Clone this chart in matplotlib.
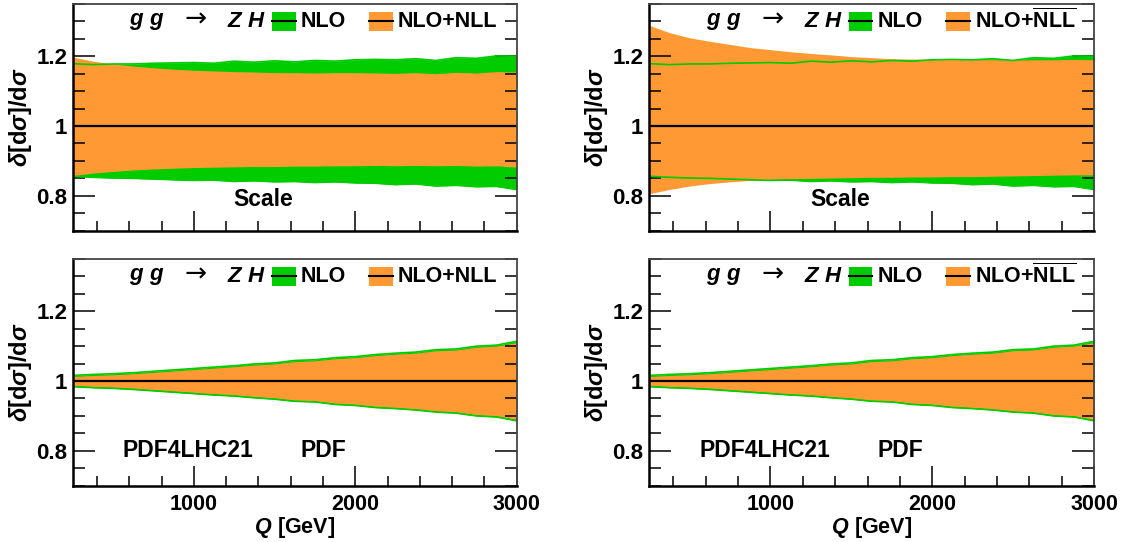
import matplotlib
matplotlib.use('Agg')
import matplotlib.pyplot as plt
from matplotlib.patches import Rectangle
from matplotlib.lines import Line2D
from matplotlib.ticker import FixedLocator, MultipleLocator

plt.rcParams['font.family'] = ['Liberation Sans', 'DejaVu Sans']
plt.rcParams['font.weight'] = 'bold'
plt.rcParams['mathtext.fontset'] = 'custom'
plt.rcParams['mathtext.rm'] = 'Liberation Sans:bold'
plt.rcParams['mathtext.bf'] = 'Liberation Sans:bold'
plt.rcParams['mathtext.it'] = 'Liberation Sans:bold:italic'

GREEN = '#00cc00'
ORANGE = '#ff9933'

# Q grid [GeV]
q = [250, 375, 500, 625, 750, 875, 1000, 1125, 1250, 1375, 1500, 1625,
     1750, 1875, 2000, 2125, 2250, 2375, 2500, 2625, 2750, 2875, 3000]

# scale uncertainty, NLO (same in both top panels)
nlo_scale_hi = [1.179, 1.176, 1.178, 1.178, 1.180, 1.181, 1.182, 1.180, 1.186, 1.183, 1.187, 1.184,
                1.188, 1.186, 1.190, 1.191, 1.190, 1.193, 1.188, 1.196, 1.194, 1.201, 1.200]
nlo_scale_lo = [0.856, 0.853, 0.851, 0.850, 0.848, 0.846, 0.844, 0.845, 0.841, 0.843, 0.840, 0.841,
                0.838, 0.840, 0.837, 0.836, 0.832, 0.834, 0.828, 0.830, 0.826, 0.827, 0.818]

# scale uncertainty, NLO+NLL
nll_scale_hi = [1.198, 1.186, 1.178, 1.172, 1.167, 1.163, 1.160, 1.158, 1.156, 1.155, 1.153, 1.153,
                1.152, 1.153, 1.153, 1.152, 1.151, 1.153, 1.150, 1.154, 1.152, 1.156, 1.155]
nll_scale_lo = [0.858, 0.865, 0.870, 0.874, 0.877, 0.879, 0.881, 0.882, 0.883, 0.884, 0.884, 0.885,
                0.885, 0.886, 0.886, 0.887, 0.886, 0.887, 0.886, 0.887, 0.885, 0.886, 0.882]

# scale uncertainty, NLO+NLLbar
nllbar_scale_hi = [1.289, 1.268, 1.253, 1.243, 1.234, 1.225, 1.219, 1.213, 1.208, 1.204, 1.199, 1.196,
                   1.193, 1.192, 1.191, 1.191, 1.190, 1.190, 1.189, 1.190, 1.190, 1.191, 1.190]
nllbar_scale_lo = [0.806, 0.818, 0.828, 0.835, 0.840, 0.844, 0.847, 0.849, 0.850, 0.851, 0.852, 0.853,
                   0.853, 0.854, 0.854, 0.855, 0.855, 0.856, 0.857, 0.858, 0.859, 0.860, 0.860]

# PDF uncertainty (PDF4LHC21), NLO
nlo_pdf_hi = [1.016, 1.019, 1.021, 1.024, 1.028, 1.032, 1.036, 1.040, 1.044, 1.049, 1.052, 1.059,
              1.061, 1.067, 1.070, 1.076, 1.080, 1.083, 1.090, 1.092, 1.100, 1.103, 1.114]
nlo_pdf_lo = [0.984, 0.981, 0.979, 0.976, 0.972, 0.968, 0.964, 0.960, 0.957, 0.952, 0.948, 0.942,
              0.940, 0.933, 0.930, 0.924, 0.921, 0.917, 0.911, 0.908, 0.900, 0.897, 0.886]

# PDF uncertainty, resummed (same for NLL and NLLbar)
nll_pdf_hi = [1.013, 1.016, 1.018, 1.021, 1.025, 1.029, 1.033, 1.037, 1.041, 1.046, 1.049, 1.056,
              1.058, 1.064, 1.067, 1.073, 1.077, 1.080, 1.087, 1.089, 1.097, 1.100, 1.110]
nll_pdf_lo = [0.987, 0.984, 0.982, 0.979, 0.975, 0.971, 0.967, 0.963, 0.960, 0.955, 0.951, 0.945,
              0.943, 0.936, 0.933, 0.927, 0.924, 0.920, 0.914, 0.911, 0.903, 0.900, 0.890]

FS = 15.5


def legend(ax, res_label):
    ax.text(0.127, 0.924, r'$g\ g$', transform=ax.transAxes, va='center', ha='left', fontsize=16)
    ax.text(0.277, 0.93, '\u2192', transform=ax.transAxes, va='center', ha='center',
            fontsize=19, fontweight='normal', family='DejaVu Sans')
    ax.text(0.348, 0.924, r'$Z\ H$', transform=ax.transAxes, va='center', ha='left', fontsize=16)
    for x0, col, lab in [(0.449, GREEN, 'NLO'), (0.668, ORANGE, res_label)]:
        ax.add_patch(Rectangle((x0, 0.882), 0.053, 0.084, transform=ax.transAxes,
                               color=col, lw=0, clip_on=False, zorder=5))
        ax.add_line(Line2D([x0, x0 + 0.053], [0.924, 0.924], transform=ax.transAxes,
                           color='k', lw=1.5, zorder=6))
        ax.text(x0 + 0.064, 0.924, lab, transform=ax.transAxes, va='center', ha='left',
                fontsize=FS)


def panel(ax, nlo_lo, nlo_hi, res_lo, res_hi, res_label, bottom):
    ax.fill_between(q, nlo_lo, nlo_hi, color=GREEN, lw=0)
    ax.fill_between(q, res_lo, res_hi, color=ORANGE, lw=0)
    ax.plot(q, nlo_hi, color=GREEN, lw=1.2)
    ax.plot(q, nlo_lo, color=GREEN, lw=1.2)
    ax.axhline(1.0, color='k', lw=1.6)

    ax.set_xlim(250, 3000)
    ax.set_ylim(0.7, 1.35)
    ax.xaxis.set_major_locator(FixedLocator([1000, 2000, 3000]))
    ax.xaxis.set_minor_locator(MultipleLocator(200))
    ax.yaxis.set_major_locator(FixedLocator([0.8, 1.0, 1.2]))
    ax.yaxis.set_minor_locator(MultipleLocator(0.05))
    ax.set_yticklabels(['0.8', '1', '1.2'])
    ax.tick_params(axis='y', which='both', direction='in', left=True, right=True, width=1.1)
    ax.tick_params(axis='y', which='major', length=16, labelsize=16, pad=4)
    ax.tick_params(axis='y', which='minor', length=8.5)
    ax.tick_params(axis='x', which='both', direction='in', bottom=True, top=False, width=1.1)
    ax.tick_params(axis='x', which='major', length=14.5, labelsize=FS, pad=6)
    ax.tick_params(axis='x', which='minor', length=7.5)
    for s in ['left', 'bottom']:
        ax.spines[s].set_linewidth(1.8)
    for s in ['top', 'right']:
        ax.spines[s].set_linewidth(1.3)
        ax.spines[s].set_color('#444444')

    ax.set_ylabel(r'$\delta\mathbf{[d}\sigma\mathbf{]/d}\sigma$', fontsize=17, va='center')
    ax.yaxis.set_label_coords(-0.118, 0.5)
    legend(ax, res_label)

    if bottom:
        ax.set_xlabel(r'$Q\ \mathbf{[GeV]}$', fontsize=FS, va='center')
        ax.xaxis.set_label_coords(0.5, -0.185)
        ax.text(965, 0.80, 'PDF4LHC21', ha='center', va='center', fontsize=16.5)
        ax.text(1804, 0.80, 'PDF', ha='center', va='center', fontsize=16.5)
    else:
        ax.tick_params(axis='x', labelbottom=False)
        ax.text(1429, 0.79, 'Scale', ha='center', va='center', fontsize=16.5)


fig = plt.figure(figsize=(11.28, 5.42), dpi=100)
ax_tl = fig.add_axes([0.0645, 0.5744, 0.3936, 0.4183])
ax_tr = fig.add_axes([0.5754, 0.5744, 0.3945, 0.4183])
ax_bl = fig.add_axes([0.0645, 0.1039, 0.3936, 0.4183])
ax_br = fig.add_axes([0.5754, 0.1039, 0.3945, 0.4183])

panel(ax_tl, nlo_scale_lo, nlo_scale_hi, nll_scale_lo, nll_scale_hi, 'NLO+NLL', False)
panel(ax_tr, nlo_scale_lo, nlo_scale_hi, nllbar_scale_lo, nllbar_scale_hi,
      r'NLO+$\overline{\mathrm{NLL}}$', False)
panel(ax_bl, nlo_pdf_lo, nlo_pdf_hi, nll_pdf_lo, nll_pdf_hi, 'NLO+NLL', True)
panel(ax_br, nlo_pdf_lo, nlo_pdf_hi, nll_pdf_lo, nll_pdf_hi,
      r'NLO+$\overline{\mathrm{NLL}}$', True)

fig.savefig('out.png', dpi=100)
